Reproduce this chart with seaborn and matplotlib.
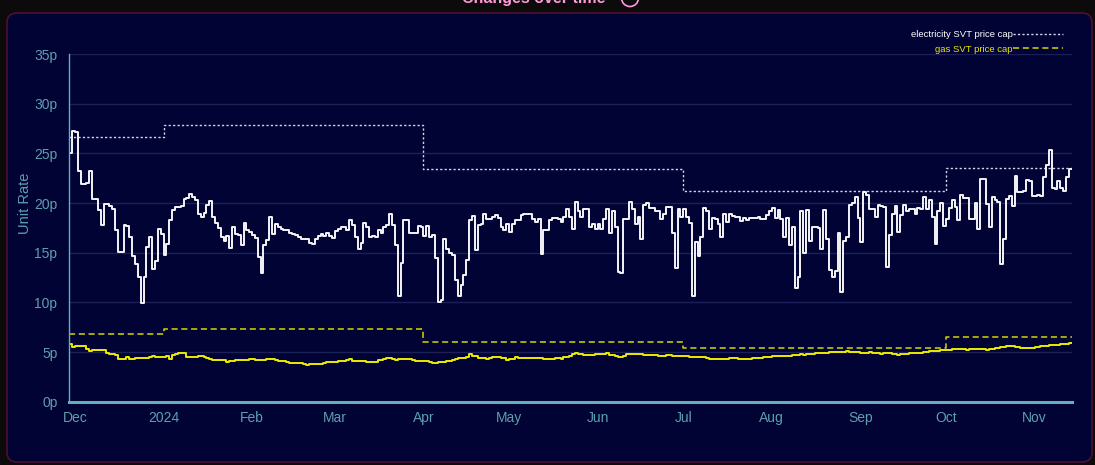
import pandas as pd
import numpy as np
import matplotlib.pyplot as plt
import seaborn as sns
from matplotlib.patches import FancyBboxPatch, Ellipse

# 1. Datos (una lectura por dia, desde 2023-11-29)
start_date = "2023-11-29"

elec_rate = [
    25.0, 27.2, 27.1, 23.2, 21.9, 21.9, 22.0, 23.2, 20.4, 20.4,
    19.3, 17.8, 19.9, 19.9, 19.7, 19.4, 17.3, 15.1, 15.1, 17.8,
    17.7, 16.6, 14.7, 13.9, 12.6, 9.9, 12.6, 15.6, 16.6, 13.4,
    14.2, 17.4, 16.9, 14.8, 15.9, 18.3, 19.3, 19.6, 19.6, 19.7,
    20.4, 20.5, 20.9, 20.6, 20.3, 18.9, 18.6, 19.0, 19.8, 20.2,
    18.6, 18.0, 17.5, 16.6, 16.2, 16.7, 15.5, 17.6, 16.9, 16.8,
    15.8, 18.0, 17.3, 17.1, 16.8, 16.5, 14.6, 13.0, 15.8, 16.3,
    18.6, 16.9, 17.9, 17.6, 17.4, 17.3, 17.3, 17.0, 16.9, 16.8,
    16.6, 16.4, 16.4, 16.4, 16.0, 15.9, 16.4, 16.7, 16.9, 16.7,
    17.0, 16.7, 16.5, 17.2, 17.4, 17.6, 17.6, 17.3, 18.3, 17.8,
    16.6, 15.4, 16.0, 18.0, 17.6, 16.6, 16.7, 16.6, 17.3, 17.0,
    17.6, 17.8, 18.9, 17.8, 15.8, 10.6, 14.0, 18.3, 18.3, 17.0,
    17.0, 17.0, 17.7, 17.6, 16.7, 17.7, 16.6, 16.8, 14.5, 10.0,
    10.2, 16.4, 15.4, 15.0, 14.8, 12.3, 10.6, 11.7, 12.8, 14.3,
    18.3, 18.7, 15.3, 17.8, 17.9, 18.9, 18.4, 18.4, 18.6, 18.8,
    18.5, 17.6, 17.3, 17.9, 17.1, 17.9, 18.3, 18.3, 18.8, 18.9,
    18.9, 18.9, 18.4, 18.1, 18.4, 14.9, 17.3, 17.3, 18.3, 18.5,
    18.5, 18.4, 18.1, 18.6, 19.4, 18.6, 17.4, 20.1, 19.2, 18.6,
    19.4, 19.4, 17.6, 17.9, 17.4, 17.9, 17.4, 18.4, 19.4, 17.0,
    19.2, 17.6, 13.1, 13.0, 18.4, 18.4, 20.1, 19.4, 17.9, 18.6,
    16.4, 19.8, 20.0, 19.5, 19.5, 19.2, 19.2, 18.4, 18.9, 19.6,
    19.6, 17.0, 13.5, 19.4, 18.6, 19.4, 18.6, 18.0, 10.6, 16.1,
    14.7, 16.6, 19.5, 19.2, 17.4, 18.5, 18.4, 17.9, 16.6, 18.9,
    18.1, 18.9, 18.7, 18.6, 18.6, 18.2, 18.5, 18.3, 18.5, 18.5,
    18.5, 18.6, 18.4, 18.4, 18.8, 19.2, 19.5, 18.5, 19.3, 18.4,
    16.6, 18.5, 15.8, 17.6, 11.4, 12.6, 19.2, 15.0, 19.3, 16.2,
    17.6, 17.6, 17.5, 15.4, 19.3, 16.4, 13.3, 12.6, 13.2, 17.0,
    11.0, 16.2, 16.6, 19.8, 20.0, 20.6, 18.5, 16.1, 21.1, 20.8,
    19.4, 19.4, 18.6, 19.8, 19.7, 19.6, 13.6, 16.8, 18.9, 19.7,
    17.1, 18.8, 19.8, 19.2, 19.4, 19.4, 18.9, 19.5, 19.4, 20.6,
    19.4, 20.3, 18.6, 15.9, 19.2, 20.0, 17.7, 18.4, 19.5, 20.3,
    19.6, 18.3, 20.8, 20.5, 20.5, 18.4, 18.4, 20.0, 17.4, 22.4,
    22.4, 19.9, 17.6, 20.6, 20.3, 20.1, 13.9, 16.4, 20.4, 20.7,
    19.7, 22.7, 21.1, 21.1, 21.2, 22.3, 22.2, 20.7, 20.7, 20.8,
    20.7, 22.6, 23.8, 25.3, 21.5, 21.4, 22.2, 21.5, 21.2, 22.6, 23.4,
]

gas_rate = [
    5.78, 5.54, 5.60, 5.60, 5.60, 5.60, 5.27, 5.11, 5.21, 5.18,
    5.17, 5.17, 5.17, 4.87, 4.77, 4.77, 4.70, 4.33, 4.33, 4.33,
    4.47, 4.27, 4.27, 4.37, 4.37, 4.37, 4.37, 4.37, 4.45, 4.64,
    4.53, 4.53, 4.53, 4.53, 4.58, 4.27, 4.70, 4.80, 4.87, 4.87,
    4.87, 4.53, 4.53, 4.53, 4.53, 4.60, 4.60, 4.50, 4.40, 4.27,
    4.20, 4.20, 4.20, 4.20, 4.20, 4.03, 4.10, 4.13, 4.20, 4.20,
    4.20, 4.20, 4.20, 4.33, 4.33, 4.20, 4.20, 4.20, 4.20, 4.25,
    4.30, 4.25, 4.18, 4.13, 4.13, 4.13, 3.97, 3.92, 3.87, 3.87,
    3.87, 3.87, 3.80, 3.73, 3.80, 3.80, 3.80, 3.80, 3.80, 3.87,
    3.97, 3.97, 4.03, 4.03, 4.13, 4.13, 4.13, 4.23, 4.25, 4.10,
    4.07, 4.07, 4.07, 4.07, 4.03, 4.00, 3.97, 4.03, 4.20, 4.20,
    4.25, 4.43, 4.38, 4.30, 4.22, 4.27, 4.27, 4.27, 4.33, 4.25,
    4.15, 4.07, 4.10, 4.10, 4.10, 4.05, 4.03, 3.93, 3.93, 3.95,
    3.97, 4.00, 4.13, 4.13, 4.20, 4.30, 4.35, 4.37, 4.40, 4.53,
    4.80, 4.60, 4.60, 4.43, 4.43, 4.43, 4.30, 4.35, 4.50, 4.53,
    4.50, 4.43, 4.43, 4.20, 4.25, 4.25, 4.45, 4.37, 4.37, 4.37,
    4.37, 4.40, 4.40, 4.40, 4.40, 4.40, 4.25, 4.27, 4.27, 4.30,
    4.37, 4.35, 4.33, 4.45, 4.53, 4.65, 4.80, 4.87, 4.77, 4.77,
    4.73, 4.73, 4.73, 4.73, 4.77, 4.77, 4.77, 4.85, 4.93, 4.67,
    4.67, 4.60, 4.53, 4.53, 4.58, 4.77, 4.77, 4.77, 4.77, 4.77,
    4.77, 4.72, 4.70, 4.72, 4.73, 4.67, 4.64, 4.64, 4.64, 4.68,
    4.66, 4.64, 4.64, 4.60, 4.60, 4.60, 4.57, 4.53, 4.50, 4.50,
    4.50, 4.50, 4.46, 4.35, 4.30, 4.33, 4.33, 4.33, 4.33, 4.33,
    4.33, 4.35, 4.37, 4.37, 4.33, 4.33, 4.33, 4.33, 4.33, 4.35,
    4.38, 4.40, 4.40, 4.45, 4.45, 4.50,
    # agosto
    4.55, 4.60, 4.62, 4.65, 4.60, 4.58, 4.62, 4.70, 4.72, 4.75,
    4.78, 4.75, 4.80, 4.82, 4.85, 4.88, 4.90, 4.88, 4.92, 4.95,
    4.98, 5.00, 5.05, 5.02, 5.00, 5.05, 5.08, 5.05, 5.02, 5.00, 4.98,
    # septiembre
    4.95, 4.92, 4.95, 4.98, 4.95, 4.90, 4.88, 4.85, 4.90, 4.92,
    4.88, 4.85, 4.80, 4.75, 4.78, 4.82, 4.85, 4.90, 4.95, 4.92,
    4.88, 4.95, 5.00, 5.05, 5.08, 5.10, 5.12, 5.15, 5.18, 5.20,
    # octubre
    5.22, 5.25, 5.28, 5.30, 5.32, 5.30, 5.28, 5.25, 5.28, 5.30,
    5.32, 5.35, 5.30, 5.28, 5.25, 5.30, 5.35, 5.40, 5.45, 5.50,
    5.55, 5.60, 5.62, 5.58, 5.55, 5.50, 5.45, 5.40, 5.38, 5.42, 5.45,
    # noviembre
    5.50, 5.55, 5.60, 5.62, 5.65, 5.70, 5.68, 5.72, 5.75, 5.78,
    5.80, 5.85, 5.88,
]

# Topes de precio (SVT price cap) por trimestre
cap_starts = ["2023-11-29", "2024-01-01", "2024-04-01", "2024-07-01", "2024-10-01"]
elec_cap = [26.6, 27.9, 23.4, 21.2, 23.5]
gas_cap = [6.82, 7.35, 5.98, 5.44, 6.55]

tick_dates = ["2023-12-01", "2024-01-01", "2024-02-01", "2024-03-01", "2024-04-01",
              "2024-05-01", "2024-06-01", "2024-07-01", "2024-08-01", "2024-09-01",
              "2024-10-01", "2024-11-01"]
tick_labels = ["Dec", "2024", "Feb", "Mar", "Apr", "May", "Jun", "Jul", "Aug",
               "Sep", "Oct", "Nov"]
y_ticks = [0, 5, 10, 15, 20, 25, 30, 35]

# 2. Tablas para seaborn (el ultimo valor se alarga hasta el final del eje)
elec_dates = pd.date_range(start_date, periods=len(elec_rate), freq="D")
gas_dates = pd.date_range(start_date, periods=len(gas_rate), freq="D")
end_date = elec_dates[-1] + pd.Timedelta(days=1)

df_elec = pd.DataFrame({"date": list(elec_dates) + [end_date],
                        "rate": elec_rate + [elec_rate[-1]]})
df_gas = pd.DataFrame({"date": list(gas_dates) + [end_date],
                       "rate": gas_rate + [gas_rate[-1]]})
df_cap = pd.DataFrame({"date": list(pd.to_datetime(cap_starts)) + [end_date],
                       "elec": elec_cap + [elec_cap[-1]],
                       "gas": gas_cap + [gas_cap[-1]]})

# 3. Estilo
sns.set_style("dark")
plt.rcParams["font.family"] = ["Liberation Sans", "DejaVu Sans"]

bg_outer = "#0c0a0a"
bg_panel = "#000333"
axis_col = "#66aeb8"
text_col = "#5f9eae"

W, H = 1095, 465
fig = plt.figure(figsize=(W / 100, H / 100), dpi=100, facecolor=bg_outer)

# panel redondeado
panel = FancyBboxPatch((7 / W, 3 / H), 1085 / W, 449 / H,
                       boxstyle="round,pad=0,rounding_size=0.009",
                       mutation_aspect=W / H, transform=fig.transFigure,
                       facecolor=bg_panel, edgecolor="#4e0f30", lw=1.2, zorder=-5)
fig.add_artist(panel)

# titulo (cortado arriba, como en la captura)
fig.text(534 / W, 1 - 3 / H, "Changes over time", color="#ff9ad8", fontsize=11.5,
         fontweight="bold", ha="center", va="baseline")
fig.add_artist(Ellipse((630 / W, 1 + 2 / H), 17 / W, 17 / H, transform=fig.transFigure,
                       facecolor="none", edgecolor="#ff9ad8", lw=1.2))

ax = fig.add_axes([69.3 / W, 1 - 401.7 / H, 1002.4 / W, 347.7 / H])
ax.set_facecolor(bg_panel)

# 4. Lineas
sns.lineplot(data=df_cap, x="date", y="elec", ax=ax, color="#d8d8e8", lw=1.0,
             linestyle=(0, (1.6, 1.6)), drawstyle="steps-post",
             label="electricity SVT price cap")
sns.lineplot(data=df_cap, x="date", y="gas", ax=ax, color="#d6d600", lw=1.1,
             linestyle=(0, (4, 2.4)), drawstyle="steps-post",
             label="gas SVT price cap")
sns.lineplot(data=df_elec, x="date", y="rate", ax=ax, color="#f4f4f8", lw=1.4,
             drawstyle="steps-post", legend=False)
sns.lineplot(data=df_gas, x="date", y="rate", ax=ax, color="#ecec00", lw=1.4,
             drawstyle="steps-post", legend=False)

# 5. Ejes
ax.set_xlim(elec_dates[0], end_date)
ax.set_ylim(0, 35)
ax.set_yticks(y_ticks)
ax.set_yticklabels([f"{v}p" for v in y_ticks])
ax.set_xticks(pd.to_datetime(tick_dates))
ax.set_xticklabels(tick_labels)
ax.tick_params(axis="both", colors=axis_col, labelcolor=text_col, labelsize=10,
               length=5, width=1, direction="out")
ax.tick_params(axis="x", pad=2)

ax.grid(axis="y", color="#1c2057", lw=1)
ax.grid(axis="x", visible=False)
ax.set_axisbelow(True)

for side in ["top", "right"]:
    ax.spines[side].set_visible(False)
ax.spines["left"].set_color(axis_col)
ax.spines["left"].set_linewidth(1)
ax.spines["bottom"].set_color(axis_col)
ax.spines["bottom"].set_linewidth(2.2)

ax.set_xlabel("")
ax.set_ylabel("Unit Rate", color=text_col, fontsize=10.5)
ax.yaxis.set_label_coords(-0.037, 0.571)

# 6. Leyenda arriba a la derecha (texto antes de la muestra)
handles, labels = ax.get_legend_handles_labels()
ax.legend(handles[:2], labels[:2], loc="upper right",
          bbox_to_anchor=(1063 / W, 1 - 30 / H), bbox_transform=fig.transFigure,
          frameon=False, markerfirst=False, fontsize=6.8, handlelength=5.3,
          handletextpad=0.05, labelspacing=0.6, borderpad=0, borderaxespad=0,
          labelcolor=["#ffffff", "#e8e800"])

fig.savefig("out.png", dpi=100, facecolor=bg_outer)
